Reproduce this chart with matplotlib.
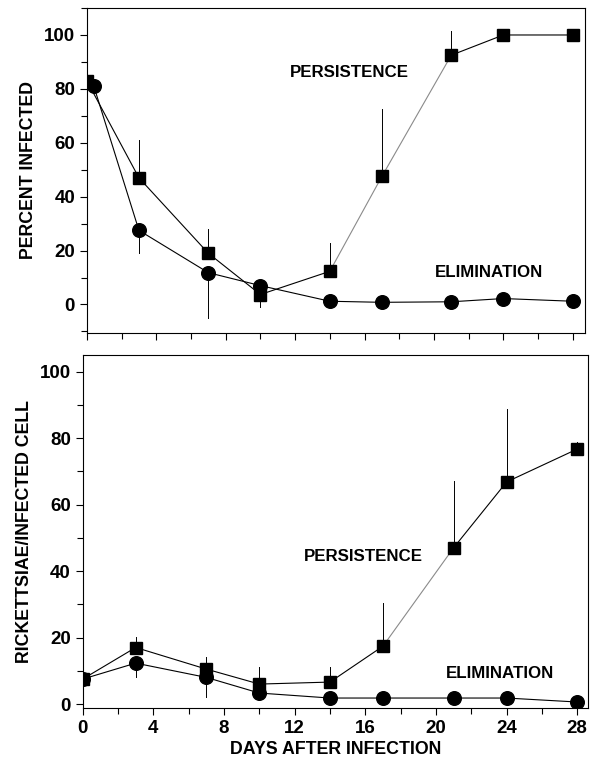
import matplotlib.pyplot as plt
from matplotlib.ticker import MultipleLocator

plt.rcParams['font.family'] = ['Liberation Sans', 'DejaVu Sans']
plt.rcParams['font.weight'] = 'bold'

# top panel: percent infected
days_p_top = [0, 3, 7, 10, 14, 17, 21, 24, 28]
pers_top = [83, 47, 19, 3.7, 12.3, 47.5, 92.5, 100, 100]
pers_top_err = [0, 14, 9, 4.5, 10.5, 25, 9, 0, 0]          # one-sided, upward (day 10 drawn down)
days_e_top = [0.4, 3, 7, 10, 14, 17, 21, 24, 28]
elim_top = [81, 27.5, 11.8, 7, 1.2, 0.8, 1, 2.2, 1.2]
elim_top_err = [0, 8.5, 17, 0, 0, 0, 0, 0, 0]             # one-sided, downward

# bottom panel: rickettsiae per infected cell
days_bot = [0, 3, 7, 10, 14, 17, 21, 24, 28]
pers_bot = [7.5, 17, 10.5, 6, 6.6, 17.4, 47, 66.8, 76.7]
pers_bot_err = [0, 3.3, 3.5, 5, 4.4, 13, 20, 22, 2]
elim_bot = [7.5, 12.3, 8, 3.3, 1.8, 1.8, 1.8, 1.8, 0.6]
elim_bot_err = [0, 4.3, 6, 0, 0, 0, 0, 0, 0]

fig = plt.figure(figsize=(5.95, 7.65), dpi=100)
ax1 = fig.add_axes([0.146, 0.565, 0.837, 0.4245])
ax2 = fig.add_axes([0.139, 0.0745, 0.849, 0.4615])

LW = 0.8
GRAY = '#8a8a8a'
FS = 12.8


def draw_series(ax, x, y, err, up, marker, ms, gray_from=None, gray_to=None):
    # connecting line, optionally with a faint section
    if gray_from is None:
        ax.plot(x, y, color='black', lw=LW, zorder=2)
    else:
        ax.plot(x[:gray_from + 1], y[:gray_from + 1], color='black', lw=LW, zorder=2)
        ax.plot(x[gray_from:gray_to + 1], y[gray_from:gray_to + 1], color=GRAY, lw=LW, zorder=2)
        ax.plot(x[gray_to:], y[gray_to:], color='black', lw=LW, zorder=2)
    for xi, yi, e, u in zip(x, y, err, up):
        if e > 0:
            y2 = yi + e if u else yi - e
            ax.plot([xi, xi], [yi, y2], color='black', lw=0.7, zorder=1)
    ax.plot(x, y, linestyle='none', marker=marker, ms=ms, color='black', zorder=3)


up_top = [True, True, True, False, True, True, True, True, True]
draw_series(ax1, days_p_top, pers_top, pers_top_err, up_top, 's', 8.4, 4, 6)
draw_series(ax1, days_e_top, elim_top, elim_top_err, [False] * 9, 'o', 9.8)
draw_series(ax2, days_bot, pers_bot, pers_bot_err, [True] * 9, 's', 8.4, 5, 6)
draw_series(ax2, days_bot, elim_bot, elim_bot_err, [False] * 9, 'o', 9.8)

ax1.text(15.1, 86, 'PERSISTENCE', ha='center', va='center', fontsize=12.2, fontweight='bold')
ax1.text(23.2, 12, 'ELIMINATION', ha='center', va='center', fontsize=12.2, fontweight='bold')
ax2.text(15.9, 44.5, 'PERSISTENCE', ha='center', va='center', fontsize=12.2, fontweight='bold')
ax2.text(23.6, 9.3, 'ELIMINATION', ha='center', va='center', fontsize=12.2, fontweight='bold')

ax1.set_xlim(0, 28.7)
ax1.set_ylim(-10.5, 110)
ax2.set_xlim(0, 28.6)
ax2.set_ylim(-1.2, 105)

for ax in (ax1, ax2):
    ax.xaxis.set_major_locator(MultipleLocator(4))
    ax.xaxis.set_minor_locator(MultipleLocator(2))
    ax.yaxis.set_major_locator(MultipleLocator(20))
    ax.yaxis.set_minor_locator(MultipleLocator(10))
    ax.tick_params(which='both', direction='out', width=0.8, labelsize=13.5)
    ax.tick_params(which='major', length=5)
    ax.tick_params(which='minor', length=4)
    ax.set_yticks([0, 20, 40, 60, 80, 100])
    for sp in ax.spines.values():
        sp.set_linewidth(0.8)
    for lab in ax.get_xticklabels() + ax.get_yticklabels():
        lab.set_fontweight('bold')

ax1.tick_params(axis='x', which='both', labelbottom=False)
ax1.set_ylabel('PERCENT INFECTED', fontsize=FS, fontweight='bold', labelpad=5)
ax2.set_ylabel('RICKETTSIAE/INFECTED CELL', fontsize=FS, fontweight='bold', labelpad=5)
ax2.set_xlabel('DAYS AFTER INFECTION', fontsize=FS, fontweight='bold', labelpad=3)

fig.savefig('out.png', dpi=100)
